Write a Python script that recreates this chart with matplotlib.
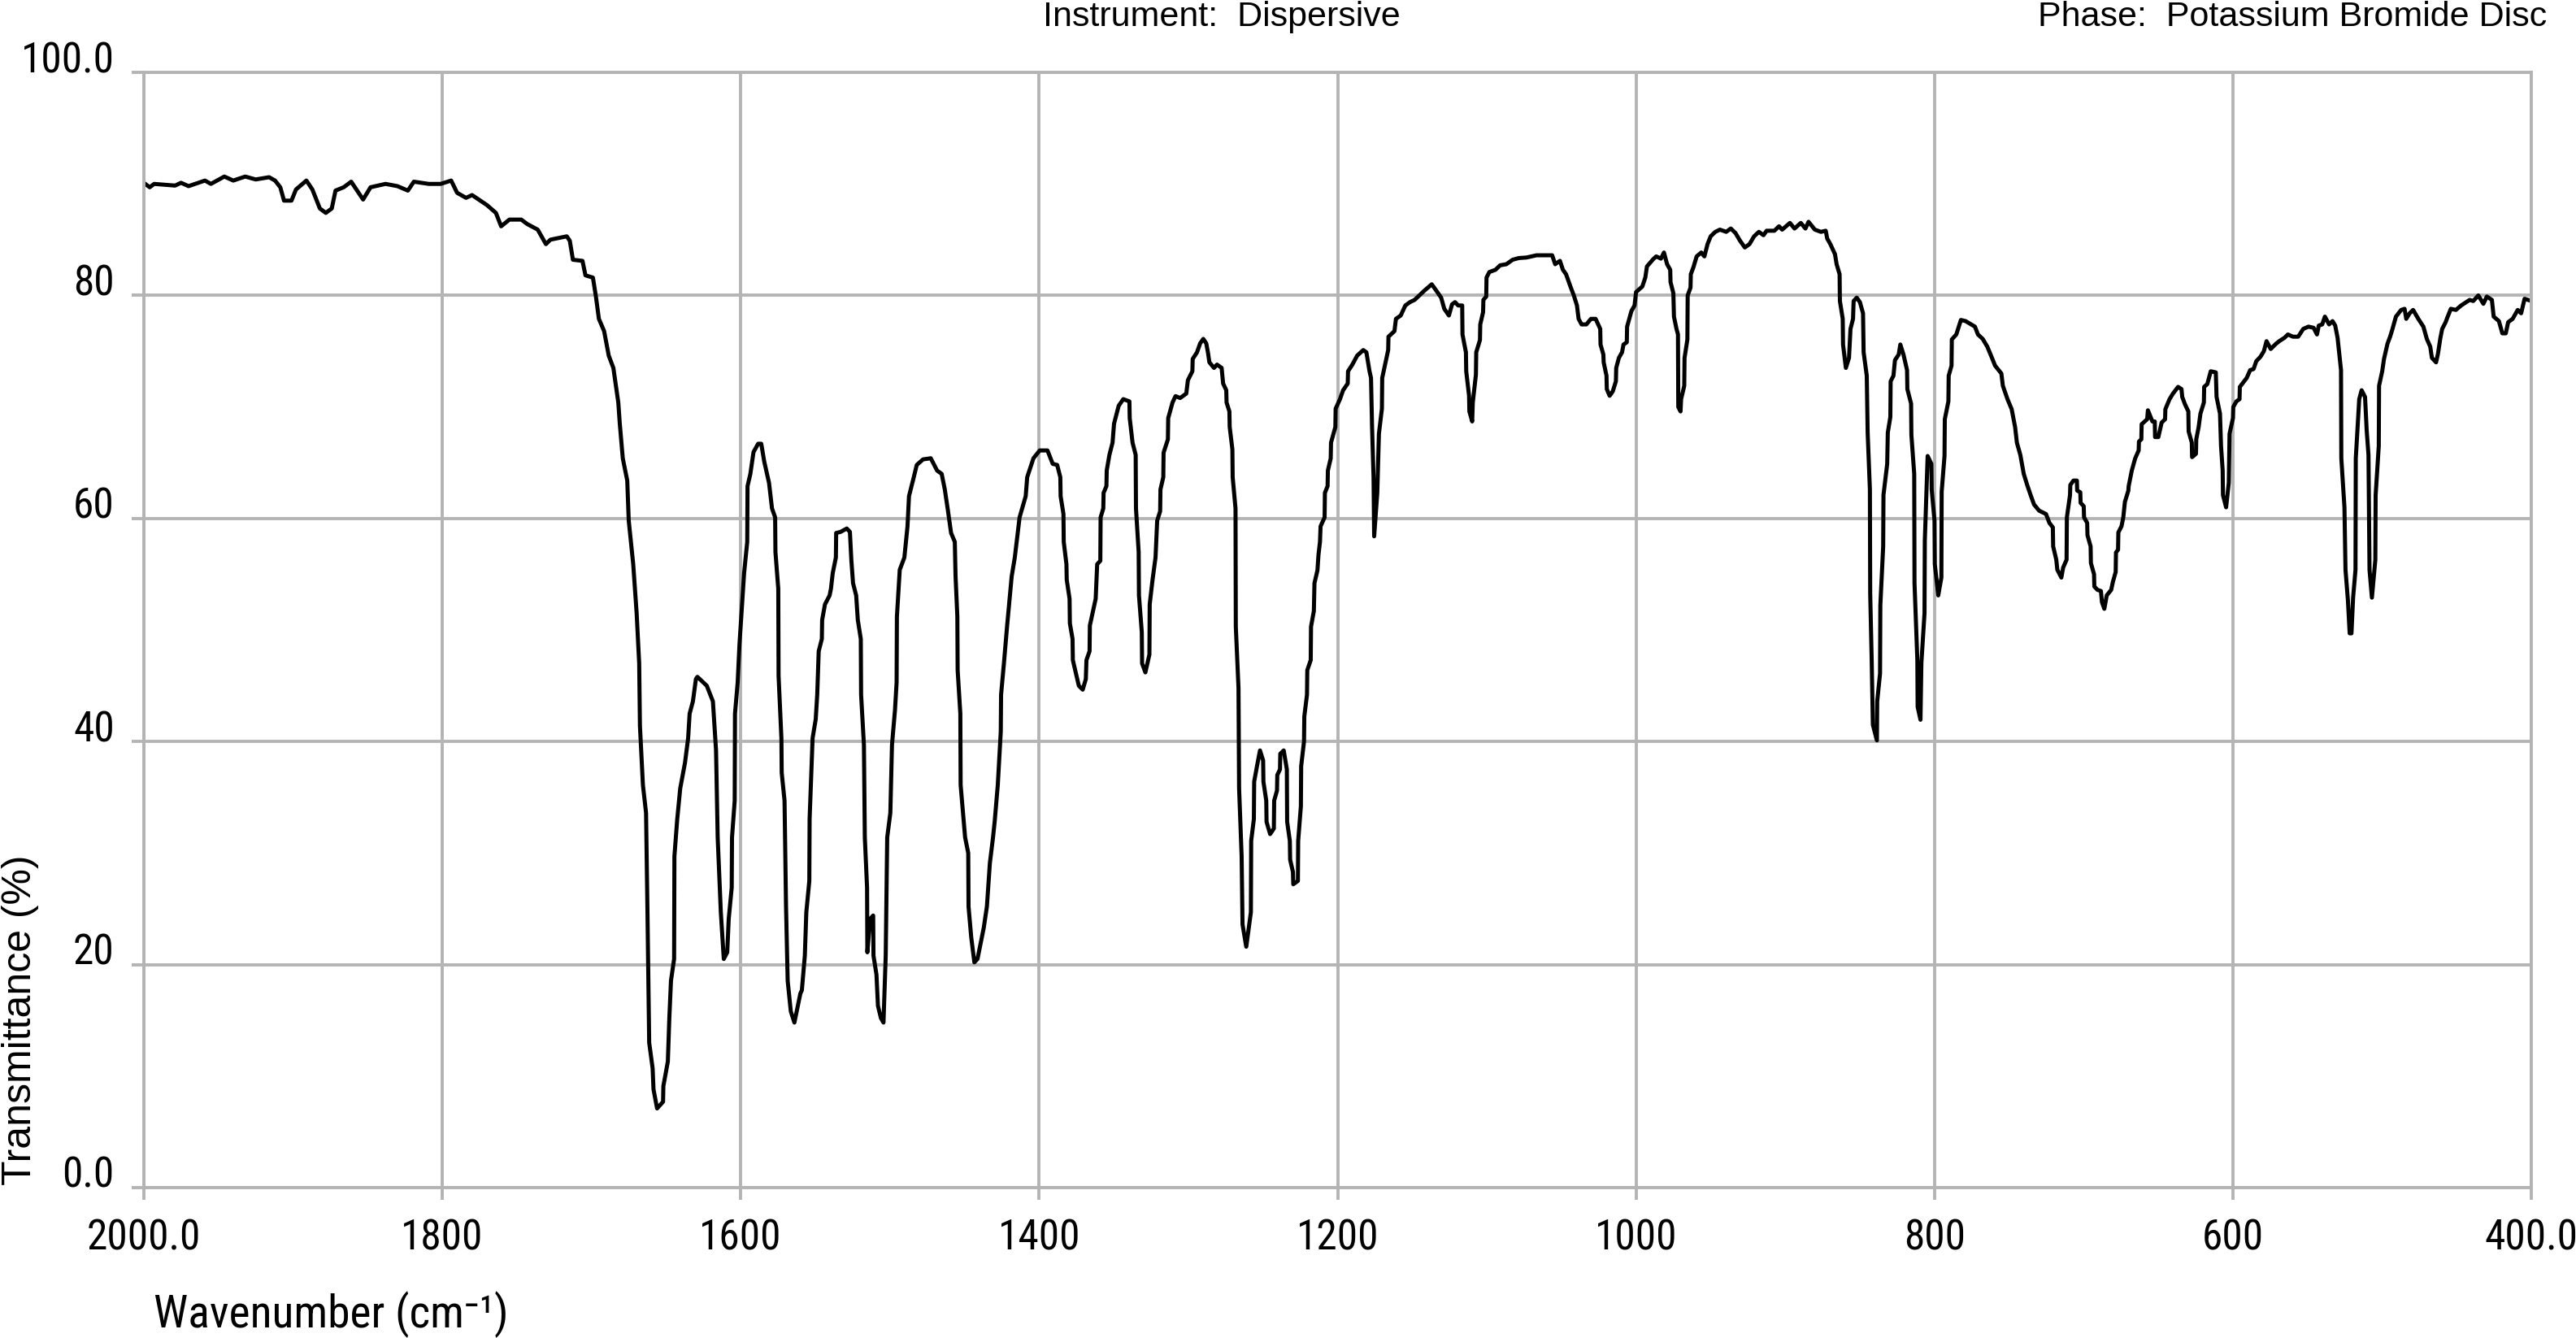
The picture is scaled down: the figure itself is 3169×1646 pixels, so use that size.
import numpy as np
import matplotlib
matplotlib.use('Agg')
import matplotlib.pyplot as plt
from matplotlib import font_manager

# (wavenumber cm-1, transmittance %), region by region
band_2000_1715 = [
    (2000, 90.1), (1996, 89.7), (1993, 90.0), (1979, 89.85), (1975, 90.1), (1970, 89.8),
    (1959, 90.3), (1955, 90.0), (1946, 90.66), (1940, 90.3), (1932, 90.66), (1925, 90.4),
    (1916, 90.6), (1912, 90.3), (1908.5, 89.7), (1906, 88.5), (1901, 88.5), (1898, 89.5),
    (1891, 90.3), (1887, 89.5), (1882, 87.8), (1878, 87.4), (1874, 87.8), (1871.5, 89.4),
    (1866, 89.7), (1861, 90.2), (1853, 88.6), (1848, 89.7), (1838, 90.0), (1830, 89.8),
    (1823, 89.4), (1819, 90.2), (1809, 90.0), (1801, 90.0), (1794, 90.3), (1790, 89.2),
    (1784, 88.75), (1780, 89.0), (1770, 88.1), (1764, 87.4), (1760.5, 86.2), (1755, 86.8),
    (1747, 86.8), (1743, 86.4), (1736, 85.9), (1730.5, 84.6), (1727.5, 85.0), (1716.5, 85.3),
    (1714.5, 84.9),
]

band_1712_1394 = [
    (1712.4, 83.2), (1706, 83.1), (1704, 81.8), (1699, 81.6), (1697, 79.9), (1695, 77.9),
    (1691.5, 76.8), (1688.4, 74.6), (1685.3, 73.5), (1682, 70.4), (1681, 68.5), (1679, 65.4),
    (1676, 63.4), (1675, 59.8), (1672, 55.9), (1669.7, 51.5), (1668, 47.0), (1667.5, 41.4),
    (1665.5, 36.1), (1663.4, 33.6), (1662.5, 25.2), (1661.3, 13.0), (1659, 10.7), (1658.4, 8.8),
    (1656, 7.1), (1652, 7.7), (1651.8, 9.1), (1648.8, 11.3), (1647.8, 15.2), (1646.7, 18.55),
    (1644.6, 20.5), (1644.4, 29.7), (1642.5, 33.05), (1640.5, 35.8), (1637.3, 38.1),
    (1635.2, 40.3), (1634.2, 42.5), (1632, 43.6), (1630, 45.6), (1629, 45.8), (1622.7, 45.0),
    (1618.6, 43.6), (1616.5, 39.2), (1615.4, 31.4), (1613.3, 24.7), (1611.3, 20.5),
    (1609, 21.1), (1608, 24.1), (1606, 26.9), (1605.8, 31.4), (1604, 34.7), (1603.8, 42.5),
    (1602, 45.3), (1600.8, 48.7), (1598.7, 53.1), (1597.7, 55.1), (1595.6, 57.9),
    (1595.4, 62.9), (1593.5, 64.0), (1591.4, 65.95), (1588.3, 66.7), (1586.2, 66.7),
    (1584.2, 65.1), (1581, 63.2), (1579, 60.9), (1576.9, 60.1), (1576.7, 57.0), (1574.8, 53.7),
    (1574.6, 45.9), (1572.7, 40.3), (1572.5, 37.2), (1570.6, 34.7), (1569.6, 25.2),
    (1568.5, 18.55), (1566.4, 15.8), (1564, 14.8), (1560, 17.4), (1559, 17.7), (1557, 20.8),
    (1556, 24.7), (1554, 27.5), (1553.8, 33.05), (1551.8, 40.3), (1549.7, 42.0), (1548.7, 44.2),
    (1547.7, 48.1), (1545.6, 49.2), (1545.4, 50.9), (1543.5, 52.3), (1540.4, 53.1),
    (1539.5, 53.7), (1538.3, 55.1), (1536.2, 56.5), (1536, 58.7), (1533, 58.8), (1528.9, 59.1),
    (1526.8, 58.8), (1525.8, 56.2), (1524.7, 54.2), (1522.6, 53.1), (1521.5, 50.9),
    (1519.5, 49.2), (1519.3, 44.2), (1517.4, 39.7), (1516.8, 31.4), (1515.3, 26.9),
    (1515.1, 21.1), (1513.2, 24.1), (1511.2, 24.4), (1511, 20.8), (1509, 19.1), (1508, 16.3),
    (1506, 15.2), (1504.3, 14.8), (1502.8, 20.8), (1501.8, 31.4), (1499.7, 33.6),
    (1498.6, 39.7), (1496.6, 42.8), (1495.5, 45.3), (1495.3, 51.2), (1493.4, 55.4),
    (1490.3, 56.5), (1488.2, 59.3), (1487.2, 62.0), (1484, 63.7), (1482, 64.8), (1477.8, 65.3),
    (1472.6, 65.4), (1468.4, 64.3), (1465.3, 64.0), (1463.2, 62.6), (1461.1, 60.7),
    (1459, 58.7), (1456.5, 57.9), (1456, 54.8), (1454.8, 51.2), (1454.6, 46.4), (1452.8, 42.5),
    (1452.6, 36.1), (1449.6, 31.4), (1447.5, 30.0), (1447.3, 25.2), (1445.5, 22.45),
    (1443.4, 20.2), (1441.3, 20.5), (1439.2, 21.9), (1437.1, 23.3), (1435, 25.2), (1433, 29.1),
    (1430.9, 31.4), (1429.8, 32.8), (1427.7, 36.1), (1425.7, 40.9), (1425.5, 44.2),
    (1423.6, 47.0), (1421.5, 50.3), (1418.4, 54.8), (1416.3, 56.5), (1413.1, 60.1), (1409, 62.0),
    (1408, 63.7), (1403.8, 65.4), (1399.6, 66.1), (1394.4, 66.1),
]

band_1391_1073 = [
    (1390.9, 64.9), (1387.9, 64.8), (1385.8, 63.7), (1385.6, 62.0), (1383.7, 60.4),
    (1383.5, 57.9), (1381.7, 55.9), (1381.5, 54.5), (1379.6, 52.8), (1379.4, 50.6),
    (1377.6, 49.2), (1377.4, 47.3), (1375.5, 46.2), (1373.4, 45.0), (1370.8, 44.65),
    (1368.7, 45.6), (1368.3, 47.3), (1366.2, 48.1), (1366, 50.4), (1362.1, 52.8),
    (1361.1, 55.9), (1359, 56.2), (1358.8, 60.1), (1357, 60.9), (1356.8, 62.3), (1354.9, 62.9),
    (1354.7, 64.3), (1352.9, 65.7), (1350.8, 66.8), (1349.8, 68.5), (1346.7, 70.1),
    (1343.6, 70.7), (1339.5, 70.5), (1339.3, 69.0), (1337.4, 66.8), (1335.3, 65.7),
    (1335.1, 60.9), (1333.3, 57.0), (1333.1, 53.1), (1331.2, 49.8), (1331, 47.0),
    (1328.8, 46.2), (1326.1, 47.8), (1325.9, 52.3), (1324, 54.5), (1322, 56.5), (1320.9, 59.8),
    (1318.9, 60.65), (1318.7, 62.6), (1316.8, 63.7), (1316.6, 65.9), (1313.7, 67.1),
    (1313.5, 69.0), (1310.6, 70.4), (1308.6, 70.97), (1305.5, 70.8), (1301.4, 71.2),
    (1300.3, 72.4), (1297.3, 73.2), (1297.1, 74.3), (1294.2, 74.9), (1292.1, 75.7),
    (1290, 76.1), (1288, 75.7), (1286.9, 74.9), (1285.9, 74.0), (1282.8, 73.5), (1280.8, 73.8),
    (1277.7, 73.5), (1276.7, 72.1), (1274.6, 71.5), (1274.4, 70.4), (1272.5, 69.6),
    (1272.3, 68.2), (1270.5, 66.2), (1270.3, 63.7), (1268.4, 60.9), (1268.2, 50.3),
    (1266.4, 44.8), (1266, 35.8), (1264.3, 29.7), (1263.7, 23.6), (1261.2, 21.6),
    (1258.1, 24.7), (1257.9, 31.1), (1256.1, 33.05), (1255.9, 36.4), (1254, 37.8),
    (1252, 39.2), (1249.9, 38.3), (1249.7, 36.4), (1247.8, 34.7), (1247.6, 32.8),
    (1245.2, 31.7), (1242.7, 32.2), (1242.5, 34.7), (1240.6, 35.6), (1240.4, 37.0),
    (1238.6, 37.5), (1238.4, 38.9), (1236.1, 39.2), (1234, 37.5), (1233.8, 32.8), (1232, 31.1),
    (1231.8, 29.4), (1229.9, 28.3), (1229.7, 27.2), (1226.6, 27.5), (1226.4, 31.1),
    (1224.6, 34.2), (1224.4, 37.8), (1222.5, 40.0), (1222.3, 42.25), (1220.5, 44.2),
    (1220.3, 46.4), (1218, 47.3), (1217.8, 50.3), (1215.9, 51.7), (1215.5, 54.2),
    (1213.5, 55.35), (1212.8, 56.75), (1211.8, 57.9), (1211.4, 59.3), (1208.7, 60.1),
    (1208.5, 62.3), (1206.7, 62.9), (1206.5, 64.3), (1204.6, 65.4), (1204.4, 66.8),
    (1201.5, 68.2), (1201.3, 69.85), (1198.4, 70.7), (1196.3, 71.5), (1193.2, 72.1),
    (1193, 73.2), (1190.1, 73.8), (1186.9, 74.6), (1182.8, 75.1), (1180.7, 74.9),
    (1178.6, 73.2), (1177.6, 72.6), (1176.9, 68.2), (1175.9, 63.7), (1175.5, 58.4),
    (1173.4, 62.3), (1172.3, 67.6), (1170.3, 69.85), (1170.1, 72.6), (1168.2, 73.8),
    (1166.1, 75.1), (1165.9, 76.3), (1161.9, 76.8), (1160.9, 77.9), (1157.7, 78.2),
    (1154.6, 79.1), (1151.5, 79.4), (1148.4, 79.6), (1145.2, 80.0), (1142.1, 80.4),
    (1136.9, 81.0), (1133.7, 80.4), (1130.6, 79.8), (1128.5, 78.8), (1125.4, 78.2),
    (1123.3, 79.2), (1121.3, 79.4), (1119.2, 79.1), (1116.5, 79.1), (1116.3, 76.5),
    (1114, 74.9), (1113.8, 73.2), (1111.9, 71.0), (1111.7, 69.6), (1109.8, 68.7),
    (1109.4, 70.4), (1107.3, 72.9), (1107.1, 74.9), (1104.6, 76.0), (1104.4, 77.4),
    (1102.5, 78.5), (1102.3, 79.6), (1100.4, 79.9), (1100.2, 81.6), (1098.3, 82.1),
    (1094.2, 82.3), (1091.1, 82.7), (1086.9, 82.8), (1082.7, 83.2), (1078.6, 83.35),
    (1073.4, 83.4),
]

band_1067_751 = [
    (1066.7, 83.6), (1060.4, 83.6), (1056.2, 83.6), (1054.2, 82.8), (1051, 83.1), (1049, 82.3),
    (1046.9, 81.9), (1043.7, 80.7), (1041.7, 80.0), (1039.6, 79.1), (1038.5, 77.9),
    (1036.5, 77.4), (1033.3, 77.4), (1030.2, 77.9), (1027.1, 77.9), (1024, 77.0),
    (1023.8, 75.6), (1021.9, 74.7), (1021.7, 74.0), (1019.8, 72.8), (1019.6, 71.6),
    (1017.7, 71.0), (1015.6, 71.4), (1013.5, 72.3), (1013.3, 73.5), (1011.5, 74.4),
    (1009.4, 74.9), (1008.4, 75.6), (1006.2, 75.8), (1006, 77.2), (1003.1, 78.6), (1001, 79.1),
    (1000, 80.3), (995.8, 80.8), (993.8, 81.6), (992.7, 82.6), (988.5, 83.25), (986.5, 83.5),
    (983.3, 83.3), (981.3, 83.85), (979.2, 82.8), (977.1, 82.3), (976.9, 81.2), (975, 80.2),
    (974.6, 78.1), (972.9, 77.0), (971.9, 76.5), (971.7, 70.0), (970.2, 69.6), (969.8, 70.7),
    (967.7, 71.9), (967.5, 74.4), (965.6, 76.05), (965.4, 80.0), (963.5, 80.7), (963.3, 81.9),
    (961.5, 82.55), (959.4, 83.5), (956.3, 83.85), (954.2, 83.5), (952.1, 84.6), (950, 85.3),
    (946.9, 85.7), (943.8, 85.9), (939.6, 85.7), (936.5, 86.0), (933.4, 85.6), (930.3, 84.9),
    (927.1, 84.3), (924, 84.6), (920.9, 85.3), (917.7, 85.7), (914.6, 85.4), (912.5, 85.8),
    (907.3, 85.8), (904.2, 86.2), (902.1, 85.9), (896.9, 86.5), (893.8, 86.0), (889.6, 86.5),
    (886.5, 86.0), (884.4, 86.6), (880.2, 85.9), (876.1, 85.7), (872.9, 85.8), (871.9, 85.1),
    (869.8, 84.6), (866.7, 83.7), (865.6, 82.8), (863.6, 81.9), (863.4, 79.5), (861.5, 77.9),
    (861.3, 75.6), (859.4, 73.5), (857.3, 74.4), (856.3, 77.0), (854.6, 77.9), (854.2, 79.5),
    (852.1, 79.8), (850, 79.4), (847.9, 78.4), (847.5, 74.9), (845.4, 72.8), (844.8, 67.7),
    (843.3, 62.6), (843.1, 53.3), (842.1, 47.3), (841.3, 41.5), (838.6, 40.1), (838.4, 43.6),
    (836.5, 46.1), (836.3, 52.2), (834.4, 57.5), (834.2, 62.1), (831.7, 64.9), (831.3, 67.7),
    (829.6, 69.1), (829.4, 72.3), (827.5, 72.8), (826.5, 74.2), (824, 74.7), (822.9, 75.6),
    (820.8, 74.7), (818.4, 73.3), (818.2, 71.6), (815.7, 70.3), (815.5, 67.5), (813.6, 64.0),
    (813.4, 54.2), (811.5, 47.3), (811.3, 43.1), (809.4, 41.95), (808.8, 47.05),
    (806.7, 51.5), (806.5, 58.0), (804.6, 65.6), (802.1, 64.9), (801.9, 62.6), (800, 59.8),
    (799.8, 55.9), (797.5, 53.1), (795.4, 54.7), (795.2, 62.4), (793.3, 65.6), (793.1, 68.9),
    (790.7, 70.5), (790.5, 72.8), (788.6, 73.7), (788.4, 76.05), (785.4, 76.5), (782.3, 77.8),
    (779.2, 77.7), (772.9, 77.2), (770.9, 76.5), (767.7, 76.1), (764.6, 75.4), (761.5, 74.4),
    (759.4, 73.7), (755.2, 73.0), (754.2, 71.9), (751.1, 70.7),
]

band_748_400 = [
    (748.3, 69.8), (746, 68.2), (744.8, 66.8), (742.5, 65.7), (740.2, 64.0), (737.9, 63.0),
    (735.6, 62.1), (733.3, 61.25), (729.9, 60.7), (725.3, 60.4), (723, 59.6), (720.7, 59.2),
    (720.5, 57.5), (718.4, 56.3), (717.7, 55.4), (715, 54.7), (713.8, 55.6), (711.5, 56.3),
    (711.3, 60.1), (709.2, 62.1), (709, 63.0), (706.9, 63.4), (704.6, 63.4), (704.4, 62.5),
    (702.3, 62.35), (702.1, 61.4), (700, 61.1), (699.8, 60.1), (697.7, 59.6), (697.5, 58.5),
    (695.4, 57.5), (695.2, 56.0), (693.1, 55.0), (692.9, 53.9), (690.8, 53.6), (688.5, 53.5),
    (687.8, 52.5), (686.2, 51.9), (684.6, 53.1), (681.6, 53.6), (680.5, 54.3), (678.6, 55.2),
    (678.4, 56.95), (677, 57.2), (676.8, 58.75), (674.7, 59.3), (673.5, 60.1), (672.4, 61.5),
    (670.1, 62.5), (669.9, 62.9), (667.8, 64.3), (665.5, 65.4), (663.2, 66.1), (663, 66.9),
    (661.4, 67.1), (661.2, 68.45), (657.5, 68.9), (657, 69.7), (654, 68.7), (652.4, 68.7),
    (652.2, 67.3), (650, 67.3), (647.8, 68.6), (645.5, 68.9), (645.3, 69.8), (642.5, 70.7),
    (640.2, 71.2), (636.8, 71.8), (634.5, 71.6), (634, 70.9), (632.2, 70.25), (629.9, 69.6),
    (629.7, 67.8), (627.6, 66.8), (627.4, 65.5), (624.8, 65.8), (624.6, 67.1), (623, 68.2),
    (621.8, 69.4), (619.5, 70.4), (619.3, 71.8), (617.2, 72.05), (614.9, 73.2), (611.5, 73.1),
    (611, 70.9), (608.7, 69.4), (608, 66.5), (606.9, 64.3), (606.7, 62.1), (604.6, 61.0),
    (602.8, 63.2), (602.3, 67.6), (600, 69.0), (599.8, 70.0), (597.7, 70.5), (595.6, 70.7),
    (595.4, 71.8), (593.1, 72.2), (590.8, 72.6), (588.5, 73.3), (586.2, 73.4), (584.4, 74.1),
    (581.6, 74.5), (579.3, 75.0), (577.5, 75.9), (574.7, 75.2), (571.3, 75.65), (569, 75.9),
    (565.5, 76.2), (563.2, 76.5), (559.8, 76.3), (556.3, 76.3), (552.9, 77.0), (549.4, 77.2),
    (546, 77.1), (543.7, 76.5), (542.5, 77.3), (540.2, 77.4), (538.4, 78.1), (535.6, 77.4),
    (533.3, 77.7), (531.5, 77.3), (529.9, 76.2), (527.6, 73.3), (527.4, 65.4), (525.3, 61.0),
    (524.6, 55.4), (523, 52.7), (521.8, 49.7), (520.6, 49.7), (519.5, 52.9), (517.9, 55.4),
    (517.7, 65.4), (515.4, 70.7), (513.8, 71.5), (511.5, 70.9), (510.4, 67.9), (509.2, 65.7),
    (508.5, 55.4), (506.9, 52.9), (504.6, 56.3), (504.4, 62.1), (502.3, 66.5), (502.1, 71.9),
    (500, 73.2), (498.8, 74.3), (496.5, 75.65), (494.7, 76.3), (493.1, 77.0), (490.8, 78.1),
    (487.3, 78.7), (485, 78.8), (483.9, 77.9), (481.6, 78.4), (479.3, 78.7), (475.8, 77.9),
    (472.4, 77.2), (470.1, 76.1), (467.8, 75.4), (466.7, 74.4), (463.9, 74.0), (462.6, 74.8),
    (461, 76.2), (459.8, 77.0), (457.5, 77.6), (456.4, 78.0), (454, 78.8), (450.6, 78.7),
    (447.1, 79.1), (443.7, 79.4), (441.4, 79.6), (439, 79.5), (435.6, 80.0), (432.2, 79.25),
    (429.9, 79.9), (426.5, 79.6), (425.3, 78.1), (421.8, 77.7), (419.5, 76.6), (417.2, 76.6),
    (415.6, 77.6), (412.6, 77.9), (409.2, 78.7), (406.9, 78.4), (404.6, 79.7), (400, 79.5),
]

x_ticks = [2000, 1800, 1600, 1400, 1200, 1000, 800, 600, 400]
x_tick_labels = ['2000.0', '1800', '1600', '1400', '1200', '1000', '800', '600', '400.0']
y_ticks = [0, 20, 40, 60, 80, 100]
y_tick_labels = ['0.0', '20', '40', '60', '80', '100.0']

spectrum = band_2000_1715 + band_1712_1394 + band_1391_1073 + band_1067_751 + band_748_400
wavenumber = np.array([p[0] for p in spectrum])
transmittance = np.array([p[1] for p in spectrum])

# the scale labels in the original use a narrow face; take one if present
installed = {f.name for f in font_manager.fontManager.ttflist}
narrow = None
for name in ['Liberation Sans Narrow', 'Arial Narrow', 'Roboto Condensed', 'Open Sans Condensed']:
    if name in installed:
        narrow = name
        break
regular = 'Liberation Sans'
if narrow:
    tick_size, xlabel_size = 37, 40
else:
    narrow = regular
    tick_size, xlabel_size = 32, 36
grid_grey = '#b4b4b4'

fig = plt.figure(figsize=(31.69, 16.46), dpi=100)
ax = fig.add_axes([0.0558, 0.1124, 0.9269, 0.8335])
ax.plot(wavenumber, transmittance, color='black', lw=3.6)

ax.set_xlim(2000, 400)
ax.set_ylim(0, 100)
ax.set_xticks(x_ticks)
ax.set_xticklabels(x_tick_labels, fontsize=tick_size, family=[narrow, 'DejaVu Sans'])
ax.set_yticks(y_ticks)
ax.set_yticklabels(y_tick_labels, fontsize=tick_size, family=[narrow, 'DejaVu Sans'])
for lab in ax.get_yticklabels():
    lab.set_va('baseline')

ax.grid(True, color=grid_grey, lw=2.8)
ax.set_axisbelow(True)
for s in ax.spines.values():
    s.set_color(grid_grey)
    s.set_linewidth(2.8)
ax.tick_params(axis='both', direction='out', length=11, width=2.8, color=grid_grey)
ax.tick_params(axis='x', pad=16)
ax.tick_params(axis='y', pad=15)

fig.text(0.4743, 0.9806, 'Instrument:  Dispersive', ha='center', va='baseline',
         fontsize=31, family=regular)
fig.text(0.9886, 0.9806, 'Phase:  Potassium Bromide Disc', ha='right', va='baseline',
         fontsize=31, family=regular)
fig.text(0.0005, 0.1142, 'Transmittance (%)', rotation=90, ha='left', va='bottom',
         fontsize=36, family=regular)
fig.text(0.0596, 0.0079, 'Wavenumber (cm\u207b\u00b9)', ha='left', va='baseline',
         fontsize=xlabel_size, family=[narrow, 'DejaVu Sans'])

fig.savefig('out.png', dpi=100)
